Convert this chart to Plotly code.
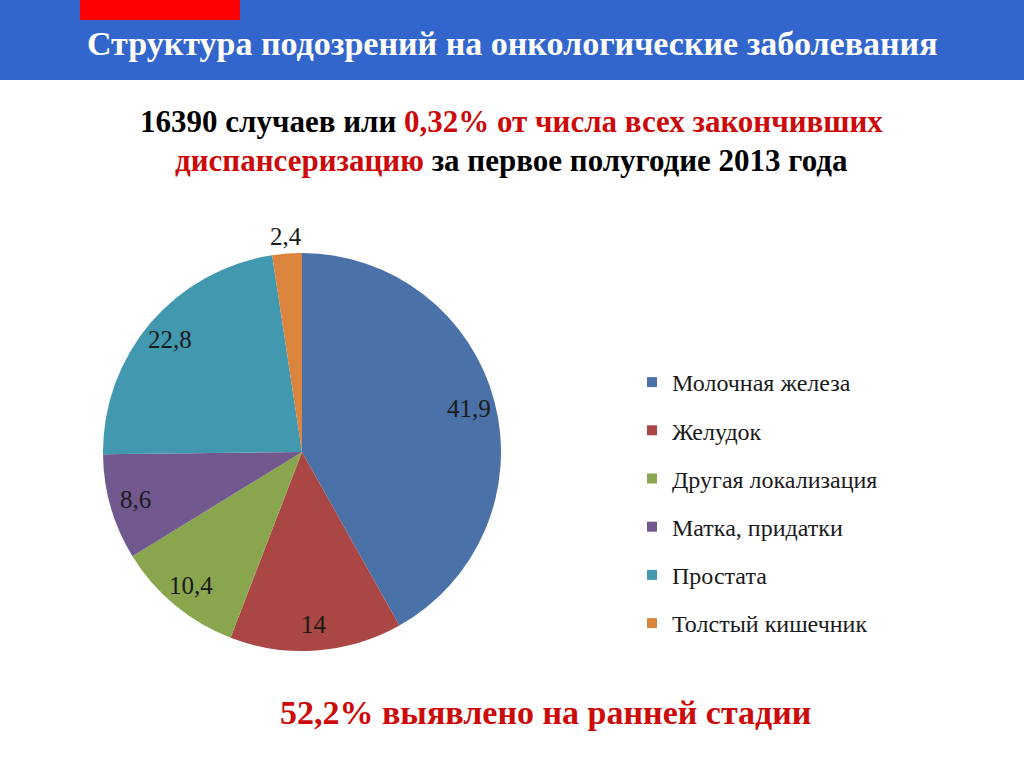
import math
import plotly.graph_objects as go

# ---- data ----
categories = ["Молочная железа", "Желудок", "Другая локализация",
              "Матка, придатки", "Простата", "Толстый кишечник"]
values = [41.9, 14, 10.4, 8.6, 22.8, 2.4]
colors = ["#4A72A8", "#AA4643", "#89A54E", "#71588F", "#4198AF", "#DB843D"]

title_text = "Структура подозрений на онкологические заболевания"
sub_line1_black = "16390 случаев или "
sub_line1_red = "0,32% от числа всех закончивших"
sub_line2_red = "диспансеризацию"
sub_line2_black = " за первое полугодие 2013 года"
bottom_text = "52,2% выявлено на ранней стадии"

W, H = 1024, 768
SERIF = "Liberation Serif"
RED = "#CC0A0A"

# pie placement (pixels)
px0, px1, py0, py1 = 103, 501, 253, 651
dom_x = [px0 / W, px1 / W]
dom_y = [1 - py1 / H, 1 - py0 / H]

fig = go.Figure()

fig.add_trace(go.Pie(
    labels=categories, values=values, sort=False, direction="clockwise",
    rotation=0, marker=dict(colors=colors, line=dict(width=0)),
    textinfo="none", hoverinfo="label+value", showlegend=False,
    domain=dict(x=dom_x, y=dom_y),
))

# legend entries (one per category)
for i, (c, col) in enumerate(zip(categories, colors)):
    fig.add_trace(go.Scatter(
        x=[None], y=[None], mode="markers", name=c,
        marker=dict(symbol="square", size=10, color=col),
        legendgroup=f"g{i}", showlegend=True,
    ))

# data labels placed from cumulative shares
total = sum(values)
cx = (dom_x[0] + dom_x[1]) / 2
cy = (dom_y[0] + dom_y[1]) / 2
R = (px1 - px0) / 2
annotations = []
cum = 0.0
for v in values:
    mid = (cum + v / 2) / total * 2 * math.pi
    cum += v
    share = v / total * 100
    rf = 1.085 if share < 5 else 0.87
    ax = cx + rf * R * math.sin(mid) / W
    ay = cy + rf * R * math.cos(mid) / H
    annotations.append(dict(
        x=ax, y=ay, xref="paper", yref="paper", showarrow=False,
        text=f"{v:g}".replace(".", ","), xanchor="center", yanchor="middle",
        font=dict(family=SERIF, size=25, color="#1a1a1a"),
    ))

annotations += [
    dict(x=512 / W, y=1 - 44 / H, xref="paper", yref="paper", showarrow=False,
         text=f"<b>{title_text}</b>", xanchor="center", yanchor="middle",
         font=dict(family=SERIF, size=34, color="white")),
    dict(x=511 / W, y=1 - 122 / H, xref="paper", yref="paper", showarrow=False,
         text=f"<b>{sub_line1_black}<span style='color:{RED}'>{sub_line1_red}</span></b>",
         xanchor="center", yanchor="middle",
         font=dict(family=SERIF, size=31, color="black")),
    dict(x=511 / W, y=1 - 160 / H, xref="paper", yref="paper", showarrow=False,
         text=f"<b><span style='color:{RED}'>{sub_line2_red}</span>{sub_line2_black}</b>",
         xanchor="center", yanchor="middle",
         font=dict(family=SERIF, size=31, color="black")),
    dict(x=545 / W, y=1 - 712 / H, xref="paper", yref="paper", showarrow=False,
         text=f"<b>{bottom_text}</b>", xanchor="center", yanchor="middle",
         font=dict(family=SERIF, size=34, color=RED)),
]

shapes = [
    dict(type="rect", xref="paper", yref="paper", x0=0, x1=1, y0=1 - 80 / H, y1=1,
         fillcolor="#3366CC", line=dict(width=0), layer="below"),
    dict(type="rect", xref="paper", yref="paper", x0=80 / W, x1=240 / W,
         y0=1 - 20 / H, y1=1, fillcolor="#FF0000", line=dict(width=0), layer="below"),
]

fig.update_layout(
    width=W, height=H, autosize=False,
    margin=dict(l=0, r=0, t=0, b=0),
    paper_bgcolor="white", plot_bgcolor="white",
    xaxis=dict(visible=False), yaxis=dict(visible=False),
    shapes=shapes, annotations=annotations,
    legend=dict(x=632 / W, y=1 - 360 / H, xanchor="left", yanchor="top",
                font=dict(family=SERIF, size=24, color="#1a1a1a"),
                tracegroupgap=14, itemwidth=30, bgcolor="rgba(0,0,0,0)"),
    separators=", ",
)

fig.write_html("out.html")
